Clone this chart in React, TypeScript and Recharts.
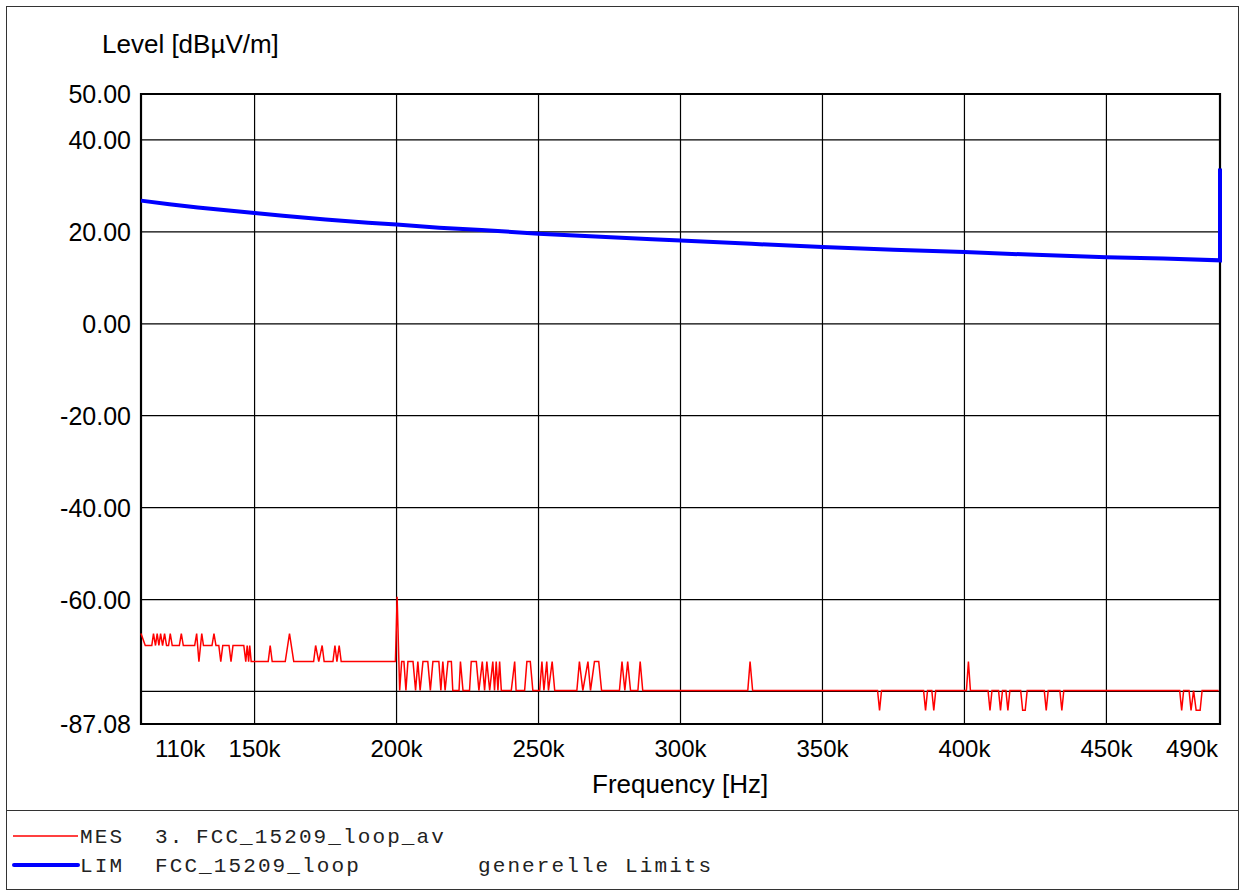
import { LineChart, Line, XAxis, YAxis, CartesianGrid, ReferenceArea } from "recharts";

// frequency axis in kHz, level in dBµV/m
const X_TICKS = [110, 150, 200, 250, 300, 350, 400, 450, 490];
const X_GRID = [150, 200, 250, 300, 350, 400, 450];
const Y_TICKS = [50, 40, 20, 0, -20, -40, -60, -87.08];
const Y_GRID = [40, 20, 0, -20, -40, -60, -80];

// LIM: FCC_15209_loop (ends with the step at 490k)
const LIM_FREQ = [110, 120, 130, 140, 150, 160, 175, 190, 200, 215, 230, 250, 270, 290, 300, 325, 350, 375, 400, 425, 450, 470, 490, 490];
const LIM_LEVEL = [26.8, 26.0, 25.3, 24.7, 24.1, 23.5, 22.7, 22.0, 21.6, 20.9, 20.4, 19.6, 19.0, 18.4, 18.1, 17.4, 16.7, 16.1, 15.6, 15.0, 14.5, 14.2, 13.8, 33.8];

// MES: 3. FCC_15209_loop_av, [kHz, dB] vertices
const MES_110_150: [number, number][] = [
  [110.0, -67.4], [111.5, -70.0], [113.8, -70.0], [114.4, -67.4], [115.1, -70.0], [115.7, -67.4],
  [116.3, -70.0], [116.9, -67.4], [117.6, -70.0], [118.3, -67.4], [119.0, -70.0], [119.7, -70.0],
  [120.3, -67.4], [121.0, -70.0], [123.5, -70.0], [124.2, -67.4], [124.9, -70.0], [128.9, -70.0],
  [129.6, -67.4], [130.4, -73.5], [131.4, -67.4], [132.0, -70.0], [135.0, -70.0], [135.7, -67.4],
  [136.4, -70.0], [137.4, -70.0], [138.1, -73.5], [138.8, -70.0], [141.0, -70.0], [141.7, -73.5],
  [142.4, -70.0], [146.2, -70.0], [146.9, -73.5], [147.4, -70.0], [147.9, -73.5], [148.3, -70.0],
  [148.8, -73.5],
];
const MES_150_200: [number, number][] = [
  [149.6, -73.5], [154.8, -73.5], [155.5, -70.0], [156.2, -73.5], [160.8, -73.5], [162.3, -67.4],
  [163.8, -73.5], [170.8, -73.5], [171.5, -70.0], [172.6, -73.5], [173.8, -70.0], [174.5, -73.5],
  [177.6, -73.5], [178.3, -70.0], [179.0, -73.5], [179.8, -70.0], [180.5, -73.5], [199.6, -73.5],
  [200.2, -59.4], [201.1, -79.8], [201.8, -73.5],
];
const MES_200_290: [number, number][] = [
  [202.6, -73.5], [203.3, -79.8], [204.0, -73.5], [205.8, -73.5], [206.7, -79.8], [207.5, -73.5],
  [208.3, -79.8], [209.3, -73.5], [211.0, -73.5], [211.9, -79.8], [212.8, -73.5], [214.9, -73.5],
  [215.6, -79.8], [216.3, -73.5], [217.1, -79.8], [218.1, -73.5], [219.3, -73.5], [219.8, -79.8],
  [222.0, -79.8], [222.5, -73.5], [223.4, -79.8], [225.7, -79.8], [226.3, -73.5], [228.1, -73.5],
  [229.0, -79.8], [230.2, -73.5], [231.0, -79.8], [231.8, -73.5], [232.8, -79.8], [233.9, -73.5],
  [234.5, -79.8], [235.1, -73.5], [235.7, -79.8], [236.3, -73.5], [236.9, -79.8], [240.4, -79.8],
  [241.6, -73.5], [242.1, -79.8], [245.1, -79.8], [245.9, -73.5], [247.1, -73.5], [248.0, -79.8],
  [250.4, -79.8], [251.2, -73.5], [251.9, -79.8], [252.9, -73.5], [253.5, -79.8], [254.8, -73.5],
  [255.7, -79.8], [263.5, -79.8], [264.4, -73.5], [265.6, -79.8], [267.4, -73.5], [268.3, -79.8],
  [269.7, -73.5], [271.2, -73.5], [272.2, -79.8], [278.5, -79.8], [279.4, -73.5], [280.4, -79.8],
  [281.4, -73.5], [282.4, -79.8], [285.0, -79.8], [285.8, -73.5], [286.7, -79.8],
];
const MES_290_490: [number, number][] = [
  [323.7, -79.8], [324.5, -73.5], [325.4, -79.8], [369.4, -79.8], [370.1, -84.1], [370.8, -79.8],
  [385.6, -79.8], [386.3, -84.1], [387.0, -79.8], [388.5, -79.8], [389.2, -84.1], [389.9, -79.8],
  [400.7, -79.8], [401.4, -73.5], [402.1, -79.8], [408.3, -79.8], [409.0, -84.1], [409.7, -79.8],
  [412.0, -79.8], [412.7, -84.1], [413.4, -79.8], [414.6, -79.8], [415.3, -84.1], [416.0, -79.8],
  [419.8, -79.8], [420.5, -84.1], [421.4, -84.1], [422.1, -79.8], [428.1, -79.8], [428.8, -84.1],
  [429.5, -79.8], [433.6, -79.8], [434.3, -84.1], [435.0, -79.8], [475.8, -79.8], [476.5, -84.1],
  [477.2, -79.8], [479.1, -79.8], [479.8, -84.1], [480.7, -79.8], [481.6, -84.1], [483.0, -84.1],
  [483.7, -79.8], [489.5, -79.8],
];

const limData = LIM_FREQ.map((f, i) => ({ freq: f, level: LIM_LEVEL[i] }));
const mesData = [...MES_110_150, ...MES_150_200, ...MES_200_290, ...MES_290_490].map(([f, l]) => ({ freq: f, level: l }));

const SANS = "'Liberation Sans', Arial, sans-serif";
const MONO = "'Liberation Mono', 'Courier New', monospace";

function FreqTick({ x, y, payload }: any) {
  const v = payload.value;
  let anchor: "start" | "middle" | "end" = "middle";
  let dx = 0;
  if (v === 110) { anchor = "start"; dx = 14; }
  if (v === 490) { anchor = "end"; dx = -2; }
  return (
    <text x={x + dx} y={y + 33} textAnchor={anchor} fontSize={24} fontFamily={SANS} fill="#000">
      {v}k
    </text>
  );
}

function LevelTick({ x, y, payload }: any) {
  return (
    <text x={x - 10} y={y + 9} textAnchor="end" fontSize={25} fontFamily={SANS} fill="#000">
      {payload.value.toFixed(2)}
    </text>
  );
}

export default function App() {
  return (
    <div style={{ position: "relative", width: 1240, height: 891, background: "#fff" }}>
      <style>{`body{margin:0}`}</style>
      <div style={{ position: "absolute", left: 6, top: 6, width: 1231, height: 882, border: "1.5px solid #333" }} />
      <div style={{ position: "absolute", left: 6, top: 810, width: 1233, height: 0, borderTop: "1.5px solid #333" }} />

      <div style={{ position: "absolute", left: 102, top: 29, fontSize: 26, fontFamily: SANS, color: "#000", whiteSpace: "nowrap" }}>
        Level [dBµV/m]
      </div>
      <div style={{ position: "absolute", left: 592, top: 769, fontSize: 26, fontFamily: SANS, color: "#000", whiteSpace: "nowrap" }}>
        Frequency [Hz]
      </div>

      <div style={{ position: "absolute", left: 0, top: 0 }}>
        <LineChart width={1240} height={800} margin={{ top: 94, left: 81, right: 20, bottom: 46 }}>
          <CartesianGrid stroke="#000" strokeWidth={1.2} horizontalValues={Y_GRID} verticalValues={X_GRID} />
          <XAxis
            dataKey="freq"
            type="number"
            domain={[110, 490]}
            ticks={X_TICKS}
            axisLine={false}
            tickLine={false}
            tickSize={0}
            tickMargin={0}
            height={30}
            tick={<FreqTick />}
            interval={0}
          />
          <YAxis
            type="number"
            domain={[-87.08, 50]}
            ticks={Y_TICKS}
            axisLine={false}
            tickLine={false}
            tickSize={0}
            tickMargin={0}
            width={60}
            tick={<LevelTick />}
            interval={0}
          />
          <ReferenceArea x1={110} x2={490} y1={-87.08} y2={50} fill="none" stroke="#000" strokeWidth={2.2} ifOverflow="visible" />
          <Line data={mesData} dataKey="level" type="linear" stroke="#ff0000" strokeWidth={1.5} dot={false} isAnimationActive={false} />
          <Line data={limData} dataKey="level" type="linear" stroke="#0000ff" strokeWidth={4} dot={false} isAnimationActive={false} />
        </LineChart>
      </div>

      <svg width={1240} height={80} style={{ position: "absolute", left: 0, top: 811 }}>
        <line x1={13} x2={78} y1={25} y2={25} stroke="#ff0000" strokeWidth={1.5} />
        <line x1={14} x2={78} y1={54} y2={54} stroke="#0000ff" strokeWidth={4} strokeLinecap="round" />
        <g fontFamily={MONO} fontSize={21} fill="#222" letterSpacing={2.1}>
          <text x={80} y={32}>MES</text>
          <text x={155} y={32}>3.</text>
          <text x={196} y={32}>FCC_15209_loop_av</text>
          <text x={80} y={61}>LIM</text>
          <text x={155} y={61}>FCC_15209_loop</text>
          <text x={478} y={61}>generelle Limits</text>
        </g>
      </svg>
    </div>
  );
}
